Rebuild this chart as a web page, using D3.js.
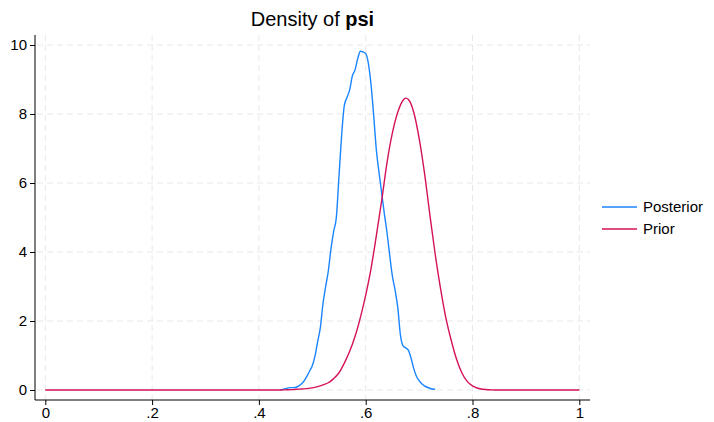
<!DOCTYPE html>
<html><head><meta charset="utf-8">
<script src="https://cdn.jsdelivr.net/npm/d3@7"></script>
<style>body{margin:0;background:#fff}svg{display:block;font-family:"Liberation Sans",Arial,sans-serif}</style>
</head><body>
<svg id="c" width="714" height="422"></svg>
<script>
const xTicks = [0, 0.2, 0.4, 0.6, 0.8, 1];
const xTickLabels = ["0", ".2", ".4", ".6", ".8", "1"];
const yTicks = [0, 2, 4, 6, 8, 10];
const seriesNames = ["Posterior", "Prior"];

const posteriorX = [0.440,0.445,0.450,0.455,0.460,0.465,0.470,0.475,0.480,0.485,0.490,0.495,0.500,0.505,0.510,0.515,0.520,0.525,0.530,0.535,0.540,0.545,0.550,0.555,0.560,0.565,0.570,0.575,0.580,0.585,0.590,0.595,0.600,0.605,0.610,0.615,0.620,0.625,0.630,0.635,0.640,0.645,0.650,0.655,0.660,0.665,0.670,0.675,0.680,0.685,0.690,0.695,0.700,0.705,0.710,0.715,0.720,0.725,0.730];
const posteriorY = [0.00,0.02,0.04,0.06,0.07,0.07,0.08,0.12,0.18,0.27,0.40,0.55,0.70,0.98,1.40,1.80,2.50,3.00,3.45,4.10,4.60,5.00,6.20,7.40,8.25,8.48,8.70,9.10,9.28,9.60,9.82,9.80,9.75,9.47,8.85,7.95,6.95,6.30,5.70,5.10,4.55,3.90,3.30,2.90,2.40,1.60,1.28,1.22,1.15,0.92,0.62,0.40,0.27,0.18,0.12,0.08,0.05,0.03,0.02];

const priorX = [0,0.05,0.10,0.15,0.20,0.25,0.30,0.35,0.40,0.44,0.45,0.46,0.47,0.48,0.49,0.50,0.51,0.52,0.53,0.54,0.55,0.56,0.57,0.58,0.59,0.60,0.61,0.62,0.63,0.64,0.65,0.66,0.67,0.675,0.68,0.69,0.70,0.71,0.72,0.73,0.74,0.75,0.76,0.77,0.78,0.79,0.80,0.81,0.82,0.83,0.84,0.85,0.90,0.95,1.00];
const priorY = [0,0,0,0,0,0,0,0,0,0,0.005,0.01,0.02,0.03,0.04,0.06,0.10,0.15,0.21,0.33,0.50,0.78,1.12,1.55,2.10,2.75,3.52,4.48,5.50,6.60,7.45,8.05,8.40,8.46,8.42,8.05,7.30,6.30,5.10,3.95,2.95,2.10,1.45,0.90,0.50,0.25,0.12,0.05,0.02,0.007,0.002,0,0,0,0];

const colors = ["#1a85ff", "#d41159"];

const svg = d3.select("#c");
const plot = {left: 35, right: 590, top: 35, bottom: 400};
const x = d3.scaleLinear().domain([0, 1]).range([45.3, 579.3]);
const y = d3.scaleLinear().domain([0, 10]).range([390, 45]);

// grid
const grid = svg.append("g").attr("stroke", "#e8e8e8").attr("stroke-width", 1).attr("stroke-dasharray", "6,4");
yTicks.forEach(t => grid.append("line").attr("x1", plot.left + 2).attr("x2", plot.right).attr("y1", y(t)).attr("y2", y(t)));
xTicks.forEach(t => grid.append("line").attr("x1", x(t)).attr("x2", x(t)).attr("y1", plot.top).attr("y2", plot.bottom));

// axes
const yAxis = d3.axisLeft(y).tickValues(yTicks).tickSize(5).tickPadding(3).tickFormat(d3.format("d"));
const xAxis = d3.axisBottom(x).tickValues(xTicks).tickSize(5).tickPadding(2).tickFormat((d, i) => xTickLabels[i]);

const gy = svg.append("g").attr("transform", `translate(${plot.left},0)`).call(yAxis);
gy.select(".domain").attr("d", `M0,${plot.top}V${plot.bottom}`);
const gx = svg.append("g").attr("transform", `translate(0,${plot.bottom})`).call(xAxis);
gx.select(".domain").attr("d", `M${plot.left},0H${plot.right}`);
[gx, gy].forEach(g => {
  g.selectAll("text").attr("font-size", 15).attr("fill", "#000").attr("font-family", "Liberation Sans, Arial, sans-serif");
  g.selectAll("line, path").attr("stroke", "#000").attr("stroke-width", 1);
});

// lines
const line = d3.line().x(d => x(d[0])).y(d => y(d[1])).curve(d3.curveMonotoneX);
const priorData = priorX.map((v, i) => [v, priorY[i]]);
const postData = posteriorX.map((v, i) => [v, posteriorY[i]]);
svg.append("path").datum(postData).attr("d", line).attr("fill", "none").attr("stroke", colors[0]).attr("stroke-width", 1.4);
svg.append("path").datum(priorData).attr("d", line).attr("fill", "none").attr("stroke", colors[1]).attr("stroke-width", 1.4);

// title
const title = svg.append("text").attr("x", (plot.left + plot.right) / 2).attr("y", 26)
  .attr("text-anchor", "middle").attr("font-size", 20).attr("fill", "#000");
title.append("tspan").text("Density of ");
title.append("tspan").attr("font-weight", "bold").text("psi");

// legend
const leg = svg.append("g");
seriesNames.forEach((n, i) => {
  const ly = 207 + i * 22;
  leg.append("line").attr("x1", 602).attr("x2", 637).attr("y1", ly).attr("y2", ly).attr("stroke", colors[i]).attr("stroke-width", 1.4);
  leg.append("text").attr("x", 643).attr("y", ly).attr("dy", "0.35em").attr("font-size", 15).attr("fill", "#000").text(n);
});
</script>
</body></html>
